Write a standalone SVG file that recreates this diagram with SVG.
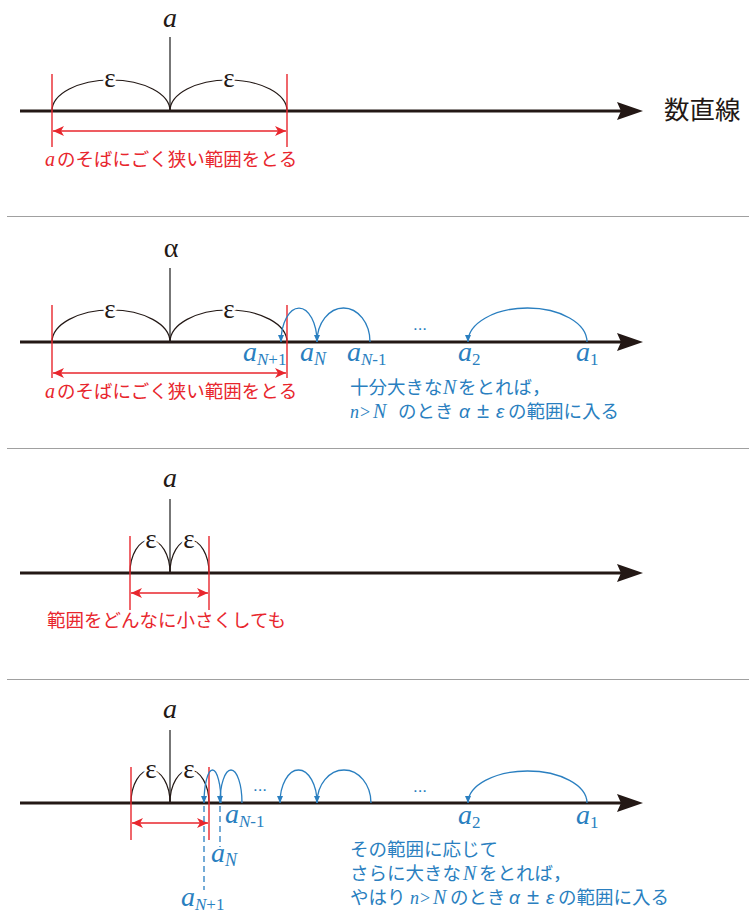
<svg xmlns="http://www.w3.org/2000/svg" width="749" height="915" viewBox="0 0 749 915">
<style>
.ax{stroke:#231815;stroke-width:3;fill:none}
.ah{fill:#231815}
.vl{stroke:#4a4a4a;stroke-width:1.5}
.arc{stroke:#231815;stroke-width:1.2;fill:none}
.rv{stroke:#e8262d;stroke-width:1.4}
.ra{stroke:#e8262d;stroke-width:1.6;marker-start:url(#rm);marker-end:url(#rm)}
.barc{stroke:#2a7fc0;stroke-width:1.3;fill:none;marker-end:url(#bm)}
.dash{stroke:#2a7fc0;stroke-width:1.3;stroke-dasharray:6 4}
.sep{stroke:#a0a0a0;stroke-width:1}
.mi{font-family:"Liberation Serif",serif;font-style:italic}
.ser{font-family:"Liberation Serif",serif}
.jp{font-family:"Noto Sans CJK JP","Noto Sans",sans-serif;font-size:18.5px}
.eps{font-family:"Liberation Serif",serif;font-size:27px;fill:#231815;stroke:#fff;stroke-width:5;paint-order:stroke;text-anchor:middle}
.red{fill:#e8262d}
.blue{fill:#2a7fc0}
.big{font-size:28px}
.sub{font-size:17px}
.gk{font-family:"Liberation Sans",sans-serif;font-style:italic;font-size:19px}
.pm{font-family:"Liberation Sans",sans-serif;font-size:22px}
.dots{font-family:"Liberation Sans",sans-serif;font-size:17px;fill:#2a7fc0;text-anchor:middle}
</style>
<defs>
<marker id="rm" viewBox="0 0 11 10" refX="11" refY="5" markerWidth="11" markerHeight="10" orient="auto-start-reverse" markerUnits="userSpaceOnUse"><path d="M0,0 L11,5 L0,10 L3,5 Z" fill="#e8262d"/></marker>
<marker id="bm" viewBox="0 0 7 6" refX="7" refY="3" markerWidth="7" markerHeight="6" orient="auto" markerUnits="userSpaceOnUse"><path d="M0,0 L7,3 L0,6 Z" fill="#2a7fc0"/></marker>
</defs>

<g id="separators">
<line class="sep" x1="7" y1="216.5" x2="749" y2="216.5"/>
<line class="sep" x1="7" y1="448.5" x2="749" y2="448.5"/>
<line class="sep" x1="7" y1="679.5" x2="749" y2="679.5"/>
</g>

<!-- Panel 1 -->
<g id="panel1">
<line class="ax" x1="20" y1="111" x2="624" y2="111"/>
<path class="ah" d="M643,111 L617,102 L621,111 L617,120 Z"/>
<text x="664" y="119" font-family="'Noto Sans CJK JP','Noto Sans',sans-serif" font-size="25.5" fill="#231815">数直線</text>
<line class="vl" x1="170" y1="37" x2="170" y2="111"/>
<text class="mi big" x="170" y="27" text-anchor="middle" fill="#231815">a</text>
<path class="arc" d="M52,111 A59,31 0 0,1 170,111"/>
<path class="arc" d="M170,111 A58.5,31 0 0,1 287,111"/>
<text class="eps" x="110" y="87">ε</text>
<text class="eps" x="229" y="87">ε</text>
<line class="rv" x1="52" y1="74" x2="52" y2="147"/>
<line class="rv" x1="287" y1="74" x2="287" y2="147"/>
<line class="ra" x1="53" y1="131" x2="286" y2="131"/>
<text class="red"><tspan class="mi" x="45" y="166" font-size="20">a</tspan><tspan class="jp" x="57" y="166">のそばにごく狭い範囲をとる</tspan></text>
</g>

<!-- Panel 2 -->
<g id="panel2">
<line class="ax" x1="20" y1="342" x2="624" y2="342"/>
<path class="ah" d="M643,342 L617,333 L621,342 L617,351 Z"/>
<line class="vl" x1="170" y1="268" x2="170" y2="342"/>
<text class="ser" x="171" y="257" font-size="28" text-anchor="middle" fill="#231815">α</text>
<path class="arc" d="M52,342 A59,32 0 0,1 170,342"/>
<path class="arc" d="M170,342 A58.5,32 0 0,1 287,342"/>
<text class="eps" x="110" y="318">ε</text>
<text class="eps" x="229" y="318">ε</text>
<line class="rv" x1="52" y1="305" x2="52" y2="378"/>
<line class="rv" x1="287" y1="305" x2="287" y2="378"/>
<line class="ra" x1="53" y1="373" x2="286" y2="373"/>
<text class="red"><tspan class="mi" x="45" y="398" font-size="20">a</tspan><tspan class="jp" x="57" y="398">のそばにごく狭い範囲をとる</tspan></text>
</g>
<g id="panel2-sequence">
<path class="barc" d="M370,342 A26.5,34 0 0,0 317,342"/>
<path class="barc" d="M317,342 A18,34 0 0,0 281,342"/>
<path class="barc" d="M587,342 A59.5,34 0 0,0 468,342"/>
<text class="dots" x="420" y="330">...</text>
<text class="blue"><tspan class="mi big" x="243" y="361">a</tspan><tspan class="mi sub" y="365">N</tspan><tspan class="ser sub">+1</tspan></text>
<text class="blue"><tspan class="mi big" x="300" y="361">a</tspan><tspan class="mi" font-size="18" y="365">N</tspan></text>
<text class="blue"><tspan class="mi big" x="347" y="361">a</tspan><tspan class="mi sub" y="365">N</tspan><tspan class="ser sub">-1</tspan></text>
<text class="blue"><tspan class="mi big" x="458" y="361">a</tspan><tspan class="ser sub" y="365">2</tspan></text>
<text class="blue"><tspan class="mi big" x="576" y="361">a</tspan><tspan class="ser sub" y="365">1</tspan></text>
<text class="blue"><tspan class="jp" x="350" y="394" font-size="18">十分大きな</tspan><tspan class="mi" x="443" y="394" font-size="20">N</tspan><tspan class="jp" x="458" y="394" font-size="18">をとれば，</tspan></text>
<text class="blue"><tspan class="mi" x="350" y="418" font-size="18">n</tspan><tspan class="ser" x="360" y="418" font-size="18">&gt;</tspan><tspan class="mi" x="373" y="418" font-size="20">N</tspan><tspan class="jp" x="398" y="418" font-size="18">のとき</tspan><tspan class="gk" x="459" y="418">α</tspan><tspan class="pm" x="477" y="418">±</tspan><tspan class="gk" x="496" y="418">ε</tspan><tspan class="jp" x="508" y="418" font-size="18">の範囲に入る</tspan></text>
</g>

<!-- Panel 3 -->
<g id="panel3">
<line class="ax" x1="20" y1="573" x2="624" y2="573"/>
<path class="ah" d="M643,573 L617,564 L621,573 L617,582 Z"/>
<line class="vl" x1="170" y1="499" x2="170" y2="573"/>
<text class="mi big" x="170" y="487" text-anchor="middle" fill="#231815">a</text>
<path class="arc" d="M130,573 A20,33 0 0,1 170,573"/>
<path class="arc" d="M170,573 A19.5,33 0 0,1 209,573"/>
<text class="eps" x="151" y="548">ε</text>
<text class="eps" x="189" y="548">ε</text>
<line class="rv" x1="130" y1="536" x2="130" y2="610"/>
<line class="rv" x1="209" y1="536" x2="209" y2="610"/>
<line class="ra" x1="131" y1="593" x2="208" y2="593"/>
<text class="red jp" x="47" y="627">範囲をどんなに小さくしても</text>
</g>

<!-- Panel 4 -->
<g id="panel4">
<line class="ax" x1="20" y1="803" x2="624" y2="803"/>
<path class="ah" d="M643,803 L617,794 L621,803 L617,812 Z"/>
<line class="vl" x1="170" y1="730" x2="170" y2="803"/>
<text class="mi big" x="170" y="718" text-anchor="middle" fill="#231815">a</text>
<path class="arc" d="M131,803 A19.5,33 0 0,1 170,803"/>
<path class="arc" d="M170,803 A19.5,33 0 0,1 209,803"/>
<text class="eps" x="151" y="778">ε</text>
<text class="eps" x="189" y="778">ε</text>
<line class="rv" x1="131" y1="767" x2="131" y2="840"/>
<line class="rv" x1="209" y1="767" x2="209" y2="840"/>
<line class="ra" x1="132" y1="823" x2="208" y2="823"/>
</g>
<g id="panel4-sequence">
<line class="dash" x1="204" y1="806" x2="204" y2="890"/>
<line class="dash" x1="220" y1="806" x2="220" y2="847"/>
<path class="barc" d="M242,803 A11,33 0 0,0 220,803"/>
<path class="barc" d="M221,803 A8.5,33 0 0,0 204,803"/>
<path class="barc" d="M317,803 A18.5,33 0 0,0 280,803"/>
<path class="barc" d="M371,803 A27,33 0 0,0 317,803"/>
<path class="barc" d="M587,803 A59.5,32 0 0,0 468,803"/>
<text class="dots" x="260" y="791">...</text>
<text class="dots" x="420" y="792">...</text>
<text class="blue"><tspan class="mi big" x="225" y="823">a</tspan><tspan class="mi sub" y="827">N</tspan><tspan class="ser sub">-1</tspan></text>
<text class="blue"><tspan class="mi big" x="211" y="862">a</tspan><tspan class="mi" font-size="18" y="866">N</tspan></text>
<text class="blue"><tspan class="mi big" x="181" y="906">a</tspan><tspan class="mi sub" y="910">N</tspan><tspan class="ser sub">+1</tspan></text>
<text class="blue"><tspan class="mi big" x="458" y="824">a</tspan><tspan class="ser sub" y="828">2</tspan></text>
<text class="blue"><tspan class="mi big" x="576" y="824">a</tspan><tspan class="ser sub" y="828">1</tspan></text>
<text class="blue jp" x="350" y="856" font-size="18">その範囲に応じて</text>
<text class="blue"><tspan class="jp" x="350" y="880" font-size="18">さらに大きな</tspan><tspan class="mi" x="463" y="880" font-size="20">N</tspan><tspan class="jp" x="479" y="880" font-size="18">をとれば，</tspan></text>
<text class="blue"><tspan class="jp" x="350" y="904" font-size="18">やはり</tspan><tspan class="mi" x="410" y="904" font-size="18">n</tspan><tspan class="ser" x="420" y="904" font-size="18">&gt;</tspan><tspan class="mi" x="433" y="904" font-size="20">N</tspan><tspan class="jp" x="450" y="904" font-size="18">のとき</tspan><tspan class="gk" x="509" y="904">α</tspan><tspan class="pm" x="527" y="904">±</tspan><tspan class="gk" x="546" y="904">ε</tspan><tspan class="jp" x="558" y="904" font-size="18">の範囲に入る</tspan></text>
</g>
</svg>
